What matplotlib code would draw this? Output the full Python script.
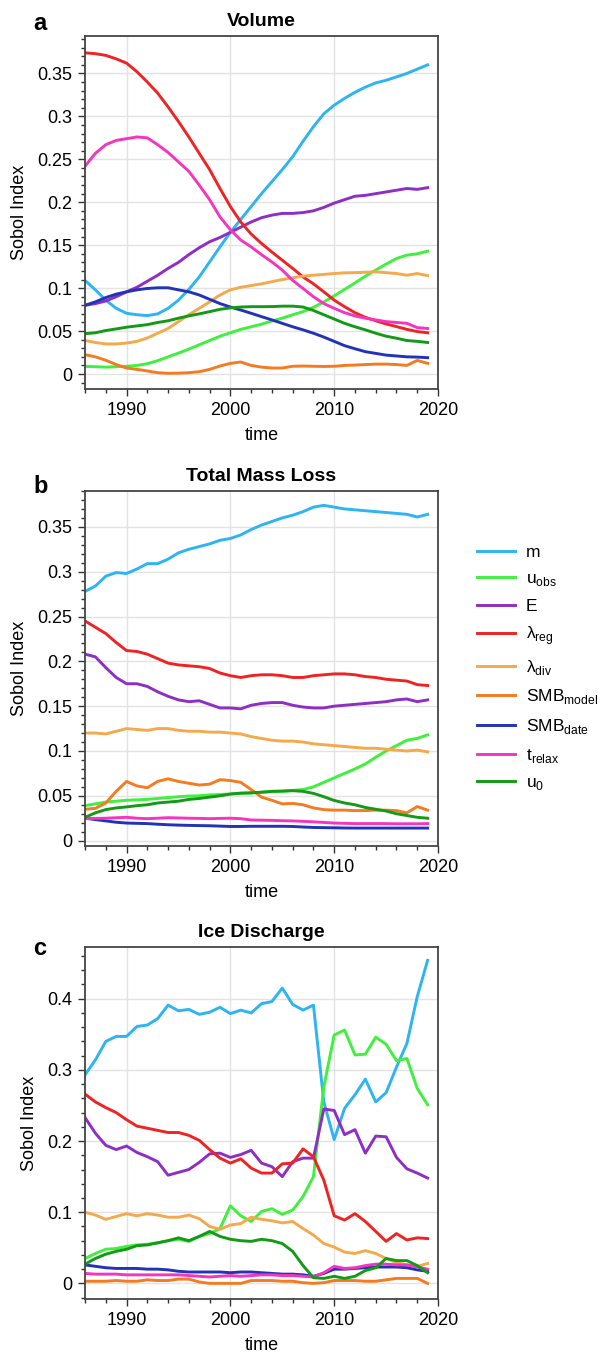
import numpy as np
import matplotlib
matplotlib.use('Agg')
import matplotlib.pyplot as plt
from matplotlib.ticker import MultipleLocator, FormatStrFormatter

plt.rcParams['font.family'] = ['Liberation Sans', 'DejaVu Sans']
plt.rcParams['mathtext.fontset'] = 'custom'
plt.rcParams['mathtext.rm'] = 'Liberation Sans'

years = np.arange(1986, 2020)

labels = ['m', r'u$_\mathrm{obs}$', 'E', r'λ$_\mathrm{reg}$', r'λ$_\mathrm{div}$',
          r'SMB$_\mathrm{model}$', r'SMB$_\mathrm{date}$', r't$_\mathrm{relax}$',
          r'u$_\mathrm{0}$']
colors = ['#2db4f2', '#3ff03c', '#8e2ec4', '#ef2323', '#f4aa4c',
          '#f57b20', '#2233b8', '#f535bf', '#139a16']

# (a) Volume
m_a = [0.109, 0.098, 0.086, 0.0765, 0.0707, 0.069, 0.068, 0.070, 0.0765, 0.086,
       0.0985, 0.113, 0.1305, 0.148, 0.165, 0.180, 0.195, 0.210, 0.224, 0.238,
       0.253, 0.271, 0.288, 0.303, 0.313, 0.321, 0.328, 0.334, 0.339, 0.342,
       0.346, 0.350, 0.355, 0.360]
uobs_a = [0.0089, 0.0085, 0.008, 0.0085, 0.009, 0.010, 0.012, 0.0155, 0.020, 0.0243,
          0.029, 0.034, 0.039, 0.044, 0.048, 0.052, 0.055, 0.058, 0.0617, 0.065,
          0.069, 0.0726, 0.0776, 0.084, 0.091, 0.0985, 0.106, 0.114, 0.121, 0.128,
          0.1345, 0.1384, 0.140, 0.143]
E_a = [0.080, 0.082, 0.085, 0.090, 0.0957, 0.101, 0.108, 0.115, 0.123, 0.130,
       0.139, 0.147, 0.154, 0.159, 0.165, 0.171, 0.177, 0.182, 0.185, 0.187,
       0.187, 0.188, 0.190, 0.194, 0.199, 0.203, 0.207, 0.208, 0.210, 0.212,
       0.214, 0.216, 0.215, 0.217]
reg_a = [0.374, 0.373, 0.371, 0.367, 0.362, 0.352, 0.340, 0.327, 0.311, 0.294,
         0.276, 0.257, 0.238, 0.216, 0.195, 0.177, 0.163, 0.152, 0.142, 0.1325,
         0.123, 0.113, 0.105, 0.0957, 0.086, 0.0784, 0.0714, 0.066, 0.062, 0.0583,
         0.0552, 0.052, 0.0494, 0.048]
div_a = [0.039, 0.0367, 0.035, 0.035, 0.036, 0.038, 0.042, 0.0475, 0.053, 0.061,
         0.069, 0.0765, 0.084, 0.092, 0.098, 0.101, 0.103, 0.105, 0.1075, 0.110,
         0.112, 0.114, 0.115, 0.116, 0.117, 0.1178, 0.118, 0.1185, 0.119, 0.118,
         0.117, 0.115, 0.117, 0.1146]
smbm_a = [0.0225, 0.020, 0.016, 0.011, 0.007, 0.0054, 0.0035, 0.0015, 0.0008, 0.001,
          0.0015, 0.0027, 0.0054, 0.0093, 0.0124, 0.014, 0.010, 0.008, 0.007, 0.007,
          0.009, 0.0093, 0.009, 0.0088, 0.009, 0.010, 0.0104, 0.011, 0.0115, 0.0115,
          0.011, 0.010, 0.0158, 0.0124]
smbd_a = [0.080, 0.084, 0.089, 0.093, 0.0957, 0.098, 0.0996, 0.1004, 0.1004, 0.098,
          0.0957, 0.092, 0.087, 0.082, 0.078, 0.0745, 0.0707, 0.0668, 0.063, 0.059,
          0.055, 0.0514, 0.0475, 0.043, 0.038, 0.033, 0.0294, 0.026, 0.024, 0.022,
          0.021, 0.020, 0.0197, 0.019]
trel_a = [0.242, 0.257, 0.267, 0.272, 0.274, 0.276, 0.275, 0.267, 0.258, 0.247,
          0.236, 0.220, 0.203, 0.183, 0.168, 0.156, 0.148, 0.139, 0.1305, 0.121,
          0.109, 0.0996, 0.090, 0.082, 0.0765, 0.0714, 0.0676, 0.065, 0.063, 0.061,
          0.060, 0.059, 0.054, 0.053]
u0_a = [0.047, 0.048, 0.0506, 0.0525, 0.0545, 0.056, 0.0575, 0.060, 0.062, 0.065,
        0.0677, 0.070, 0.0726, 0.0753, 0.077, 0.078, 0.0784, 0.0784, 0.0785, 0.079,
        0.079, 0.078, 0.074, 0.069, 0.064, 0.059, 0.055, 0.0514, 0.0475, 0.044,
        0.0417, 0.039, 0.038, 0.0367]

# (b) Total Mass Loss
m_b = [0.278, 0.284, 0.295, 0.299, 0.298, 0.303, 0.309, 0.309, 0.314, 0.321,
       0.325, 0.328, 0.331, 0.335, 0.337, 0.341, 0.347, 0.352, 0.356, 0.360,
       0.363, 0.367, 0.372, 0.374, 0.372, 0.370, 0.369, 0.368, 0.367, 0.366,
       0.365, 0.364, 0.361, 0.364]
uobs_b = [0.039, 0.041, 0.043, 0.044, 0.045, 0.0455, 0.046, 0.047, 0.048, 0.049,
          0.0497, 0.050, 0.051, 0.0515, 0.052, 0.0527, 0.053, 0.054, 0.0545, 0.055,
          0.056, 0.057, 0.060, 0.065, 0.070, 0.075, 0.080, 0.0855, 0.093, 0.100,
          0.106, 0.112, 0.114, 0.118]
E_b = [0.208, 0.205, 0.193, 0.182, 0.175, 0.175, 0.172, 0.166, 0.161, 0.157,
       0.155, 0.156, 0.152, 0.148, 0.148, 0.147, 0.151, 0.153, 0.154, 0.154,
       0.151, 0.149, 0.148, 0.148, 0.150, 0.151, 0.152, 0.153, 0.154, 0.155,
       0.157, 0.158, 0.155, 0.157]
reg_b = [0.245, 0.238, 0.231, 0.221, 0.212, 0.211, 0.208, 0.203, 0.198, 0.196,
         0.195, 0.194, 0.192, 0.187, 0.184, 0.182, 0.184, 0.185, 0.185, 0.184,
         0.182, 0.182, 0.184, 0.185, 0.186, 0.186, 0.185, 0.183, 0.182, 0.180,
         0.179, 0.178, 0.174, 0.173]
div_b = [0.120, 0.120, 0.119, 0.122, 0.125, 0.124, 0.123, 0.125, 0.125, 0.123,
         0.122, 0.122, 0.121, 0.121, 0.120, 0.119, 0.116, 0.114, 0.112, 0.111,
         0.111, 0.110, 0.108, 0.107, 0.106, 0.105, 0.104, 0.103, 0.103, 0.102,
         0.101, 0.100, 0.101, 0.099]
smbm_b = [0.035, 0.036, 0.042, 0.055, 0.066, 0.061, 0.059, 0.066, 0.069, 0.066,
          0.064, 0.062, 0.063, 0.068, 0.067, 0.065, 0.057, 0.0485, 0.045, 0.041,
          0.0415, 0.040, 0.0365, 0.0346, 0.034, 0.034, 0.0335, 0.0335, 0.034, 0.034,
          0.0335, 0.031, 0.038, 0.034]
smbd_b = [0.025, 0.0235, 0.022, 0.0205, 0.0196, 0.0193, 0.019, 0.0183, 0.0177, 0.0173,
          0.017, 0.0168, 0.0166, 0.0162, 0.0158, 0.0158, 0.016, 0.016, 0.016, 0.016,
          0.0158, 0.0152, 0.0147, 0.0145, 0.0143, 0.0141, 0.014, 0.014, 0.014, 0.014,
          0.014, 0.014, 0.014, 0.014]
trel_b = [0.0245, 0.0248, 0.025, 0.0255, 0.026, 0.025, 0.0245, 0.025, 0.0256, 0.0253,
          0.025, 0.0248, 0.0245, 0.0248, 0.025, 0.0245, 0.023, 0.0228, 0.0226, 0.0222,
          0.022, 0.0215, 0.021, 0.0203, 0.0196, 0.0193, 0.019, 0.019, 0.019, 0.019,
          0.0188, 0.0188, 0.0188, 0.019]
u0_b = [0.026, 0.031, 0.0346, 0.0365, 0.0376, 0.039, 0.040, 0.042, 0.043, 0.044,
        0.046, 0.047, 0.0485, 0.050, 0.052, 0.053, 0.0534, 0.054, 0.055, 0.0553,
        0.0557, 0.055, 0.0527, 0.049, 0.0448, 0.042, 0.040, 0.037, 0.035, 0.033,
        0.030, 0.028, 0.026, 0.025]

# (c) Ice Discharge
m_c = [0.293, 0.314, 0.340, 0.347, 0.347, 0.361, 0.363, 0.372, 0.391, 0.383,
       0.385, 0.378, 0.381, 0.388, 0.379, 0.384, 0.380, 0.393, 0.396, 0.415,
       0.392, 0.384, 0.391, 0.255, 0.202, 0.246, 0.265, 0.287, 0.255, 0.268,
       0.304, 0.337, 0.403, 0.454]
uobs_c = [0.035, 0.042, 0.048, 0.049, 0.052, 0.054, 0.055, 0.057, 0.060, 0.062,
          0.059, 0.066, 0.070, 0.077, 0.109, 0.095, 0.087, 0.101, 0.105, 0.097,
          0.103, 0.122, 0.150, 0.276, 0.349, 0.356, 0.321, 0.322, 0.346, 0.336,
          0.313, 0.316, 0.274, 0.251]
E_c = [0.233, 0.211, 0.194, 0.188, 0.193, 0.184, 0.178, 0.171, 0.152, 0.156,
       0.160, 0.170, 0.182, 0.183, 0.177, 0.181, 0.187, 0.169, 0.164, 0.150,
       0.171, 0.176, 0.176, 0.245, 0.243, 0.209, 0.216, 0.183, 0.207, 0.206,
       0.177, 0.161, 0.155, 0.148]
reg_c = [0.266, 0.255, 0.247, 0.240, 0.230, 0.221, 0.218, 0.215, 0.212, 0.212,
         0.208, 0.201, 0.188, 0.176, 0.169, 0.175, 0.162, 0.155, 0.155, 0.168,
         0.169, 0.189, 0.178, 0.145, 0.095, 0.089, 0.098, 0.087, 0.073, 0.059,
         0.070, 0.061, 0.064, 0.063]
div_c = [0.100, 0.096, 0.090, 0.094, 0.098, 0.095, 0.098, 0.096, 0.093, 0.093,
         0.096, 0.091, 0.080, 0.076, 0.082, 0.084, 0.093, 0.090, 0.088, 0.085,
         0.087, 0.077, 0.068, 0.056, 0.051, 0.044, 0.042, 0.046, 0.042, 0.035,
         0.029, 0.026, 0.024, 0.028]
smbm_c = [0.003, 0.003, 0.003, 0.004, 0.003, 0.003, 0.005, 0.004, 0.004, 0.006,
          0.006, 0.002, 0.000, 0.000, 0.000, 0.000, 0.004, 0.004, 0.004, 0.003,
          0.003, 0.001, 0.000, 0.001, 0.004, 0.004, 0.004, 0.003, 0.003, 0.005,
          0.007, 0.007, 0.007, 0.000]
smbd_c = [0.026, 0.024, 0.022, 0.021, 0.021, 0.021, 0.020, 0.020, 0.019, 0.017,
          0.016, 0.016, 0.016, 0.016, 0.015, 0.016, 0.016, 0.015, 0.014, 0.013,
          0.013, 0.012, 0.010, 0.014, 0.020, 0.020, 0.021, 0.022, 0.023, 0.023,
          0.023, 0.022, 0.019, 0.017]
trel_c = [0.014, 0.013, 0.013, 0.013, 0.012, 0.012, 0.012, 0.012, 0.012, 0.012,
          0.011, 0.010, 0.009, 0.010, 0.011, 0.010, 0.011, 0.012, 0.012, 0.011,
          0.011, 0.010, 0.009, 0.015, 0.024, 0.021, 0.022, 0.025, 0.027, 0.027,
          0.026, 0.026, 0.023, 0.020]
u0_c = [0.027, 0.035, 0.041, 0.045, 0.048, 0.053, 0.054, 0.057, 0.060, 0.064,
        0.060, 0.066, 0.073, 0.066, 0.062, 0.060, 0.059, 0.062, 0.060, 0.056,
        0.045, 0.025, 0.008, 0.007, 0.010, 0.007, 0.010, 0.018, 0.022, 0.035,
        0.032, 0.032, 0.025, 0.015]

panels = [
    ('a', 'Volume', [m_a, uobs_a, E_a, reg_a, div_a, smbm_a, smbd_a, trel_a, u0_a],
     (-0.0175, 0.3935), 0.05, 0.01, 0.978, [0.141, 0.7131, 0.5854, 0.2603]),
    ('b', 'Total Mass Loss', [m_b, uobs_b, E_b, reg_b, div_b, smbm_b, smbd_b, trel_b, u0_b],
     (-0.006, 0.390), 0.05, 0.01, 0.6364, [0.141, 0.3761, 0.5854, 0.2618]),
    ('c', 'Ice Discharge', [m_c, uobs_c, E_c, reg_c, div_c, smbm_c, smbd_c, trel_c, u0_c],
     (-0.022, 0.473), 0.1, 0.02, 0.2957, [0.141, 0.042, 0.5854, 0.2598]),
]

fig = plt.figure(figsize=(6.03, 13.56), dpi=100)

for letter, title, series, ylim, major, minor, ly, pos in panels:
    ax = fig.add_axes(pos)
    for vals, lab, c in zip(series, labels, colors):
        ax.plot(years, vals, color=c, lw=2.1, label=lab)
    ax.set_xlim(1986, 2020)
    ax.set_ylim(*ylim)
    ax.xaxis.set_major_locator(MultipleLocator(10))
    ax.xaxis.set_minor_locator(MultipleLocator(2))
    ax.yaxis.set_major_locator(MultipleLocator(major))
    ax.yaxis.set_minor_locator(MultipleLocator(minor))
    ax.yaxis.set_major_formatter(FormatStrFormatter('%g'))
    ax.grid(True, which='major', color='#e3e3e3', lw=1.0)
    ax.set_axisbelow(True)
    ax.tick_params(which='both', direction='out', top=False, right=False,
                   labelsize=13, color='#333333', width=1.0)
    ax.tick_params(which='major', length=5, pad=4)
    ax.tick_params(which='minor', length=3)
    for s in ax.spines.values():
        s.set_color('#444444')
        s.set_linewidth(1.3)
    ax.set_xlabel('time', fontsize=13, labelpad=6)
    ax.set_ylabel('Sobol Index', fontsize=13, labelpad=7)
    ax.set_title(title, fontsize=14, fontweight='bold', pad=7)
    fig.text(0.0547, ly, letter, fontsize=17, fontweight='bold')
    if letter == 'b':
        ax.legend(loc='upper left', bbox_to_anchor=(0.791, 0.598),
                  bbox_transform=fig.transFigure, frameon=False, fontsize=12.5,
                  handlelength=2.2, handletextpad=0.6, labelspacing=0.61,
                  borderpad=0, borderaxespad=0)

fig.savefig('out.png', dpi=100)
